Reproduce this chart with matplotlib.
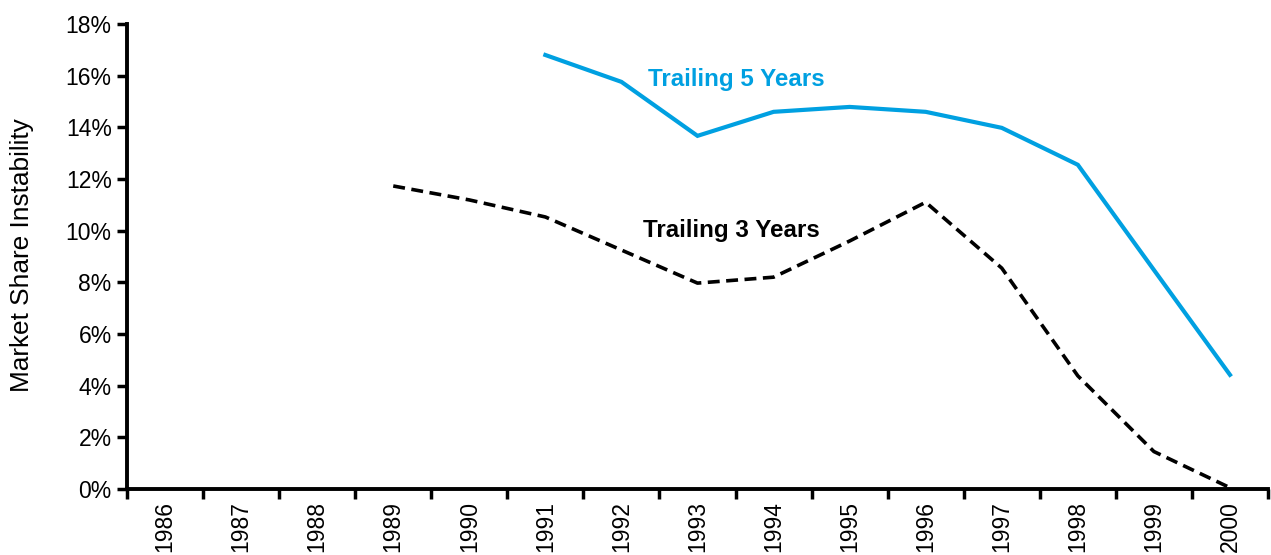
import matplotlib
matplotlib.use("Agg")
import matplotlib.pyplot as plt
import numpy as np
from matplotlib.ticker import FuncFormatter, FixedLocator

years = ["1986", "1987", "1988", "1989", "1990", "1991", "1992", "1993",
         "1994", "1995", "1996", "1997", "1998", "1999", "2000"]
trailing5 = [None, None, None, None, None, 16.8, 15.76, 13.67, 14.6, 14.79,
             14.6, 13.98, 12.55, 8.48, 4.42]
trailing3 = [None, None, None, 11.73, 11.19, 10.53, 9.25, 7.97, 8.2, 9.6,
             11.1, 8.55, 4.38, 1.45, 0.05]

plt.rcParams['font.family'] = ['Liberation Sans', 'DejaVu Sans']

fig = plt.figure(figsize=(12.71, 5.55), dpi=100)
ax = fig.add_axes([127/1271, 66/555, 1141/1271, 465/555])

x = np.arange(len(years))
t5 = np.array([np.nan if v is None else v for v in trailing5], dtype=float)
t3 = np.array([np.nan if v is None else v for v in trailing3], dtype=float)

blue = "#00A0E1"
ax.plot(x, t5, color=blue, lw=3.0, solid_joinstyle='miter', clip_on=False)
ax.plot(x, t3, color="black", lw=2.6, linestyle=(0, (3.3, 1.8)), clip_on=False)

ax.set_xlim(-0.5, len(years) - 0.5)
ax.set_ylim(0, 18)
ax.set_yticks(np.arange(0, 19, 2))
ax.yaxis.set_major_formatter(FuncFormatter(lambda v, p: f"{int(v)}%"))

ax.set_xticks(x)
ax.set_xticklabels(years, rotation=90, fontsize=16.5)
ax.xaxis.set_minor_locator(FixedLocator(np.arange(-0.5, len(years), 1.0)))
ax.tick_params(axis='x', which='major', length=0, pad=9)
ax.tick_params(axis='x', which='minor', length=7, width=2.5, direction='out')
ax.tick_params(axis='y', which='major', length=7, width=2.5, direction='out', labelsize=16.5, pad=4)

for s in ['top', 'right']:
    ax.spines[s].set_visible(False)
for s in ['left', 'bottom']:
    ax.spines[s].set_linewidth(2.8)

fig.text(22/1271, 1 - 255/555, "Market Share Instability", fontsize=18.9,
         rotation=90, ha='center', va='center')

ax.text(7.506, 15.87, "Trailing 5 Years", color=blue, fontsize=17.4, fontweight='bold',
        ha='center', va='center')
ax.text(7.44, 9.99, "Trailing 3 Years", color="black", fontsize=17.4, fontweight='bold',
        ha='center', va='center')

fig.savefig("out.png", dpi=100)
